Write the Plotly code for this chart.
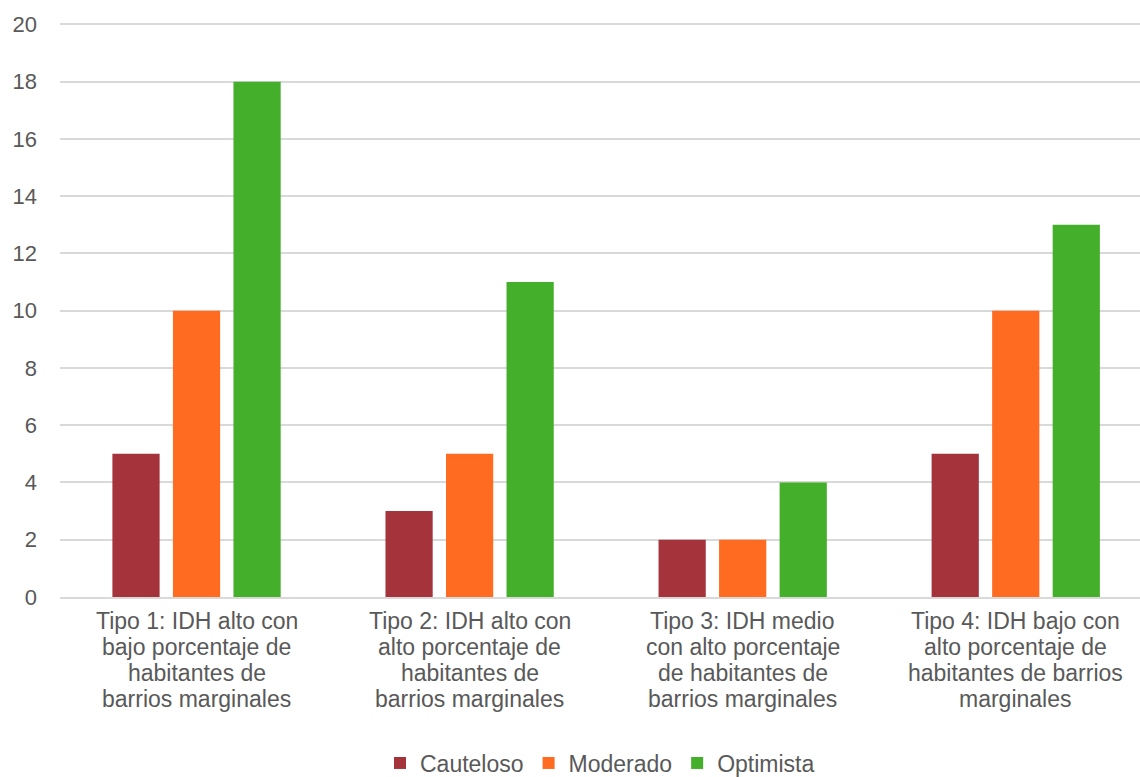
import plotly.graph_objects as go

# Etiquetas de categoría, una lista de líneas por categoría
categorias = [
    ["Tipo 1: IDH alto con", "bajo porcentaje de", "habitantes de", "barrios marginales"],
    ["Tipo 2: IDH alto con", "alto porcentaje de", "habitantes de", "barrios marginales"],
    ["Tipo 3: IDH medio", "con alto porcentaje", "de habitantes de", "barrios marginales"],
    ["Tipo 4: IDH bajo con", "alto porcentaje de", "habitantes de barrios", "marginales"],
]
cauteloso = [5, 3, 2, 5]
moderado = [10, 5, 2, 10]
optimista = [18, 11, 4, 13]
ticks_y = [0, 2, 4, 6, 8, 10, 12, 14, 16, 18, 20]

series = [
    ("Cauteloso", cauteloso, "#A4333B"),
    ("Moderado", moderado, "#FF6B21"),
    ("Optimista", optimista, "#43AF2B"),
]

FONT = "Liberation Sans, Arial, sans-serif"
TXT = "#595959"
LINE_H = 26  # interlineado de las etiquetas de categoría (px)

posiciones = list(range(len(categorias)))

fig = go.Figure()
for nombre, valores, color in series:
    fig.add_trace(go.Bar(
        name=nombre,
        x=posiciones,
        y=valores,
        marker=dict(color=color, line=dict(width=0)),
    ))

# Etiquetas del eje X en varias líneas con interlineado compacto
anotaciones = []
for pos, lineas in zip(posiciones, categorias):
    for i, linea in enumerate(lineas):
        anotaciones.append(dict(
            x=pos, xref="x",
            y=0, yref="paper",
            yanchor="top", xanchor="center",
            yshift=-(9 + LINE_H * i),
            text=linea,
            showarrow=False,
            font=dict(family=FONT, size=23, color=TXT),
        ))

fig.update_layout(
    width=1140,
    height=777,
    barmode="group",
    bargap=0.335,
    bargroupgap=0.22,
    plot_bgcolor="white",
    paper_bgcolor="white",
    margin=dict(l=60, r=0, t=23, b=180, autoexpand=False),
    font=dict(family=FONT, size=23, color=TXT),
    showlegend=True,
    legend=dict(
        orientation="h",
        x=0.5, xanchor="center",
        yref="container", y=0.018, yanchor="middle",
        font=dict(family=FONT, size=23, color=TXT),
        itemwidth=30,
        traceorder="normal",
    ),
    annotations=anotaciones,
)

fig.update_xaxes(
    range=[-0.5, 3.455],
    showgrid=False,
    showticklabels=False,
    showline=True,
    linecolor="#d9d9d9",
    linewidth=2,
    ticks="",
)

fig.update_yaxes(
    range=[0, 20.05],
    tickvals=ticks_y,
    showgrid=True,
    gridcolor="#d9d9d9",
    gridwidth=2,
    zeroline=False,
    showline=False,
    ticks="",
    ticklabelstandoff=22,
    tickfont=dict(family=FONT, size=22, color=TXT),
)

fig.write_html("out.html")
